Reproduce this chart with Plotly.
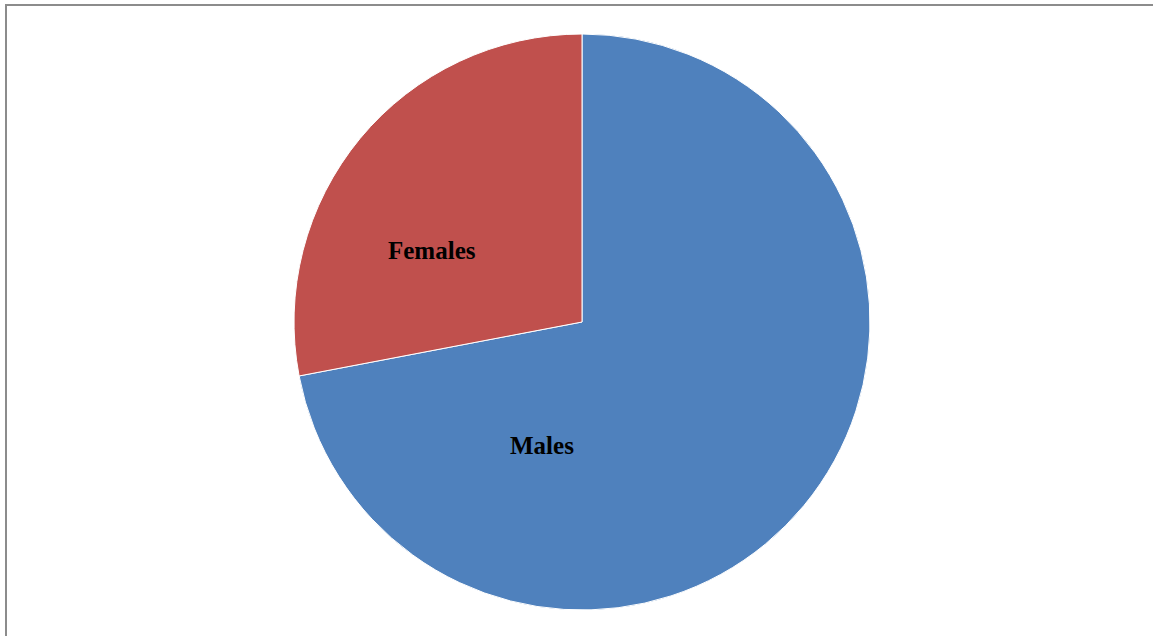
import plotly.graph_objects as go

labels = ["Males", "Females"]
values = [72, 28]
colors = ["#4F81BD", "#C0504D"]
label_pos = {"Males": (542, 445), "Females": (432, 250)}

W, H = 1153, 636

fig = go.Figure(go.Pie(
    labels=labels,
    values=values,
    sort=False,
    direction="clockwise",
    rotation=0,
    marker=dict(colors=colors, line=dict(color="white", width=1)),
    textinfo="none",
    domain=dict(x=[294 / W, 870 / W], y=[1 - 610 / H, 1 - 34 / H]),
    showlegend=False,
    hoverinfo="label+percent",
))

annotations = []
for lab in labels:
    px, py = label_pos[lab]
    annotations.append(dict(
        text=lab, x=px / W, y=1 - py / H, xref="paper", yref="paper",
        showarrow=False, xanchor="center", yanchor="middle",
        font=dict(family="Liberation Serif", size=25, color="black", weight="bold"),
    ))

fig.update_layout(
    width=W, height=H,
    margin=dict(l=0, r=0, t=0, b=0),
    paper_bgcolor="white",
    plot_bgcolor="white",
    annotations=annotations,
    shapes=[
        dict(type="line", xref="paper", yref="paper", x0=5 / W, x1=1, y0=1 - 5 / H, y1=1 - 5 / H,
             line=dict(color="#8c8c8c", width=2)),
        dict(type="line", xref="paper", yref="paper", x0=6 / W, x1=6 / W, y0=0, y1=1 - 4 / H,
             line=dict(color="#8c8c8c", width=2)),
    ],
)

fig.write_html("out.html", config={"displayModeBar": False},
               post_script="document.body.style.margin='0';document.body.style.overflow='hidden';")
